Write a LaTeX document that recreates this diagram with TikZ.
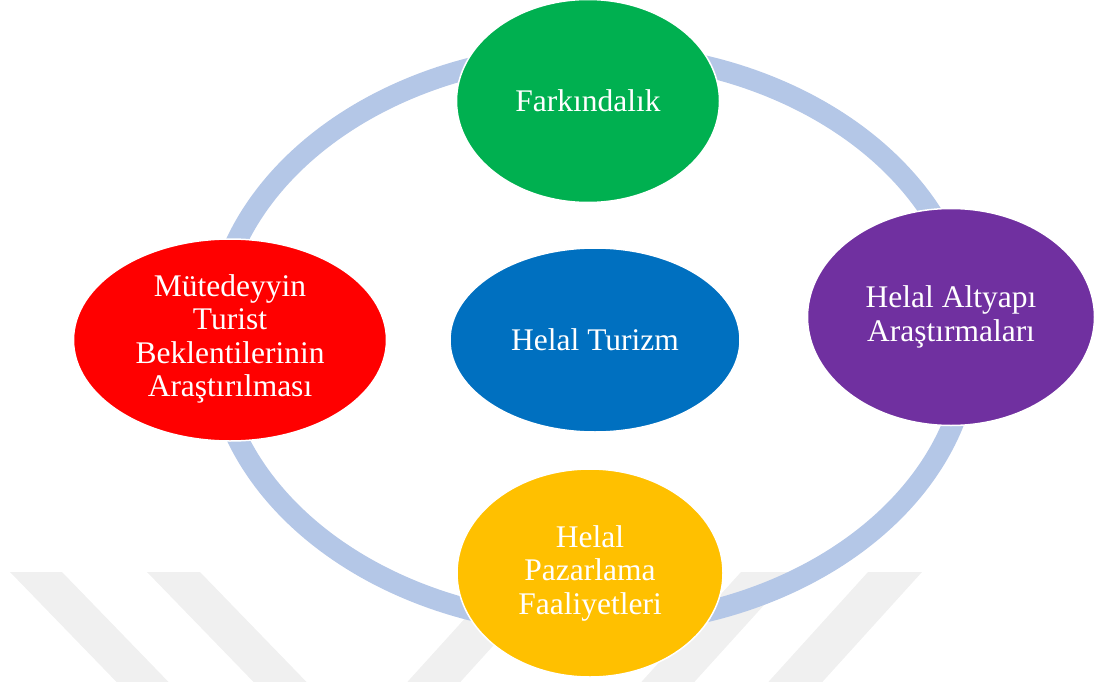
\documentclass[tikz,border=0pt]{standalone}
\usepackage{fontspec}
\setmainfont{Liberation Serif}
\usetikzlibrary{shapes.geometric}
\definecolor{ringblue}{HTML}{B4C7E7}
\definecolor{wmgray}{HTML}{F0F0F0}
\definecolor{cgreen}{HTML}{00B050}
\definecolor{cpurple}{HTML}{7030A0}
\definecolor{cred}{HTML}{FF0000}
\definecolor{cblue}{HTML}{0070C0}
\definecolor{cyellow}{HTML}{FFC000}
\tikzset{
	blob/.style={ellipse, draw=white, line width=1.5pt, inner sep=0pt, text=white,
		align=center, font=\fontsize{31.5}{33.5}\selectfont},
	stripe/.style={fill=wmgray, draw=none}
}
\begin{document}
\begin{tikzpicture}[x=1pt, y=-1pt]
		\useasboundingbox (0,0) rectangle (1095,682);
		\begin{scope}
			\clip (0,0) rectangle (1095,682);
			\fill[stripe] (10,572) -- (62,572) -- (186,700) -- (134,700) -- cycle;
			\fill[stripe] (147,572) -- (200,572) -- (324,700) -- (271,700) -- cycle;
			\fill[stripe] (507,572) -- (560,572) -- (444,700) -- (391,700) -- cycle;
			\fill[stripe] (741,572) -- (794,572) -- (678,700) -- (625,700) -- cycle;
			\fill[stripe] (868,572) -- (922,572) -- (806,700) -- (752,700) -- cycle;
		\end{scope}
%
		\draw[ringblue, line width=21pt] (592,339) ellipse (378 and 286);
%
		\node[blob, fill=cgreen, minimum width=263pt, minimum height=203pt] (aware) at (588,101) {Farkındalık};
		\node[blob, fill=cpurple, minimum width=287pt, minimum height=217pt] (infra) at (951,317) {Helal Altyapı\\Araştırmaları};
		\node[blob, fill=cred, minimum width=313pt, minimum height=202pt] (tourist) at (230,340) {\raisebox{-5pt}{\begin{tabular}{@{}c@{}}Mütedeyyin\\Turist\\Beklentilerinin\\Araştırılması\end{tabular}}};
		\node[blob, fill=cblue, minimum width=290pt, minimum height=184pt] (core) at (595,340) {Helal Turizm};
		\node[blob, fill=cyellow, minimum width=266pt, minimum height=208pt] (market) at (590,573) {Helal\\Pazarlama\\Faaliyetleri};
	\end{tikzpicture}
\end{document}
